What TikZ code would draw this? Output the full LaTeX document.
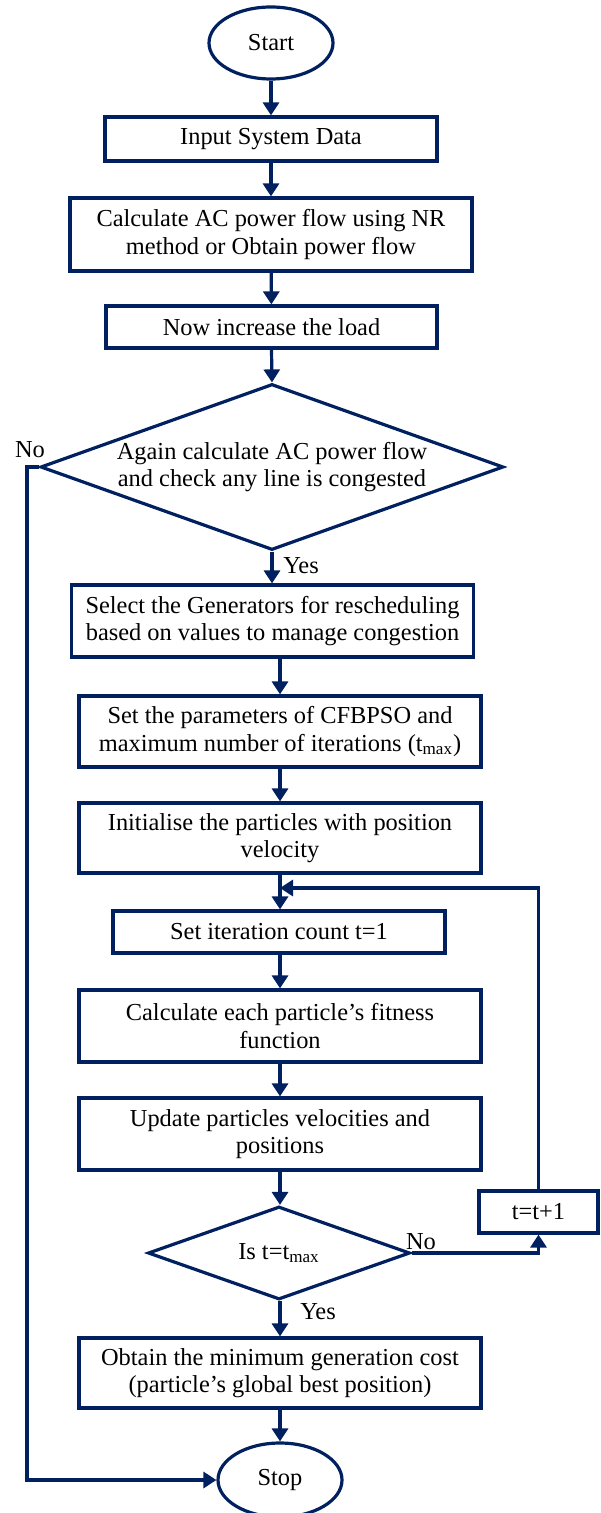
\documentclass[tikz,border=0pt]{standalone}
\usepackage{fontspec}
\setmainfont{Liberation Serif}
\usetikzlibrary{shapes.geometric,arrows.meta}
\definecolor{navy}{RGB}{0,32,96}
\begin{document}
\begin{tikzpicture}[x=0.5pt,y=-0.5pt,
  >={Triangle[length=6.5pt,width=8pt]},
  every node/.style={font=\fontsize{12.2}{13.6}\selectfont},
  flow/.style={draw=navy,line width=1.6pt,->},
  term/.style={ellipse,draw=navy,line width=1.6pt,inner sep=0pt,minimum width=62pt,minimum height=36pt},
  proc/.style={rectangle,draw=navy,line width=1.6pt,align=center,inner sep=0pt,minimum width=201pt,minimum height=36pt},
  dec/.style={diamond,draw=navy,line width=1.6pt,align=center,inner sep=0pt}]
  \useasboundingbox (0,0) rectangle (600,1513);
  % main column
  \node[term] (start) at (271,43) {Start};
  \node[proc,minimum width=166pt,minimum height=22pt] (input) at (271,139) {Input System Data};
  \node[proc,minimum height=36.5pt] (nr) at (271,234.5) {Calculate AC power flow using NR\\method or Obtain power flow};
  \node[proc,minimum width=165.5pt,minimum height=21pt] (load) at (271.5,327) {Now increase the load};
  \node[dec,shape aspect=2.79,minimum width=231.5pt,minimum height=83pt] (cong) at (272,467) {Again calculate AC power flow\\and check any line is congested};
  \node[proc] (select) at (272.5,621) {Select the Generators for rescheduling\\based on values to manage congestion};
  \node[proc,minimum height=35.5pt] (param) at (280,731.5) {Set the parameters of CFBPSO and\\maximum number of iterations (t\textsubscript{max})};
  \node[proc,minimum height=35pt] (init) at (280,838) {Initialise the particles with position\\velocity};
  \node[proc,minimum width=166pt,minimum height=21pt] (iter) at (279,932) {Set iteration count t=1};
  \node[proc] (fit) at (280,1026) {Calculate each particle’s fitness\\function};
  \node[proc] (upd) at (280,1134) {Update particles velocities and\\positions};
  \node[dec,shape aspect=2.82,minimum width=131pt,minimum height=46.5pt] (tmax) at (279,1253) {Is t=t\textsubscript{max}};
  \node[proc,minimum width=59.5pt,minimum height=21pt] (inc) at (538.5,1212) {t=t+1};
  \node[proc,minimum height=35pt] (best) at (280,1373) {Obtain the minimum generation cost\\(particle’s global best position)};
  \node[term,minimum height=37pt] (stop) at (280,1480) {Stop};
  % labels
  \node (no1) at (30,450) {No};
  \node (yes1) at (301,566) {Yes};
  \node (no2) at (421,1242) {No};
  \node (yes2) at (318,1312) {Yes};
  \coordinate (nocorner) at (27,467);
  \coordinate (loopin) at (280,888);
  % connectors
  \draw[flow] (start) -- (input);
  \draw[flow] (input) -- (nr);
  \draw[flow] (nr) -- (load);
  \draw[flow] (load.south) -- (cong.north);
  \draw[flow] (cong.south) -- (cong.south |- select.north);
  \draw[flow] (param.north |- select.south) -- (param.north);
  \draw[flow] (param) -- (init);
  \draw[flow] (init.south) -- (iter.north -| init.south);
  \draw[flow] (iter.south -| fit.north) -- (fit.north);
  \draw[flow] (fit) -- (upd);
  \draw[flow] (upd.south) -- (tmax.north -| upd.south);
  \draw[flow] (tmax.south -| best.north) -- (best.north);
  \draw[flow] (best) -- (stop);
  % no branches and loop
  \draw[flow] (tmax.east) -| (inc.south);
  \draw[flow] (inc.north) |- (loopin);
  \draw[flow] (cong.west) -- (nocorner) |- (stop.west);
\end{tikzpicture}
\end{document}
